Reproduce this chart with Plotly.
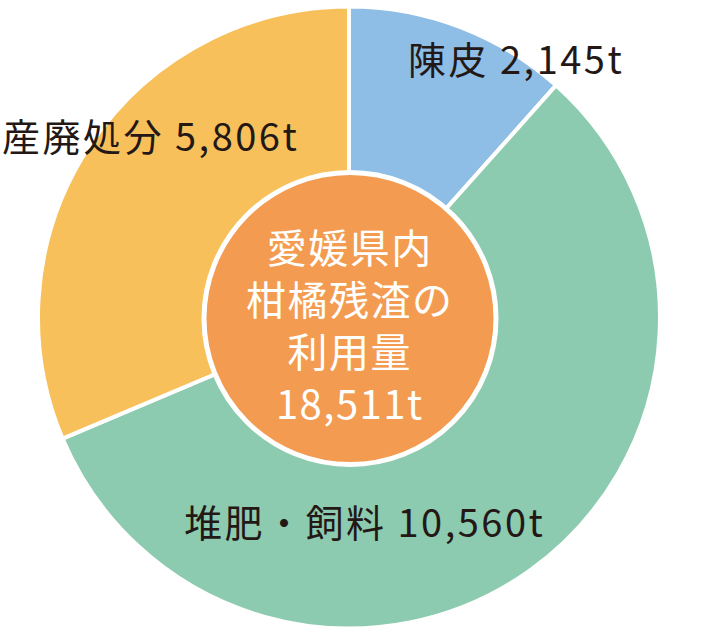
import plotly.graph_objects as go

# data
labels = ["陳皮", "堆肥・飼料", "産廃処分"]
values = [2145, 10560, 5806]
colors = ["#8EBDE6", "#8DCBB0", "#F7C05B"]
center_lines = ["愛媛県内", "柑橘残渣の", "利用量", "18,511t"]

W, H = 707, 635
font_jp = "Noto Sans CJK JP"
ink = "#231815"


def px(x):
    return x / W


def py(y):
    return 1 - y / H


def spaced(s, ls):
    return f'<span style="letter-spacing:{ls}px">{s}</span>'


fig = go.Figure()
fig.add_trace(go.Pie(
    labels=labels,
    values=values,
    sort=False,
    direction="clockwise",
    rotation=0,
    textinfo="none",
    hoverinfo="label+value",
    marker=dict(colors=colors, line=dict(color="white", width=4)),
    domain=dict(x=[px(38), px(660)], y=[py(628.5), py(6.5)]),
    showlegend=False,
))

# center circle
cx, cy, r = 350, 318.5, 146
fig.add_shape(
    type="circle", xref="paper", yref="paper",
    x0=px(cx - r), x1=px(cx + r), y0=py(cy + r), y1=py(cy - r),
    fillcolor="#F39C51", line=dict(color="white", width=5),
)
fig.add_annotation(
    text="<br>".join(spaced(t, 1.5) for t in center_lines),
    xref="paper", yref="paper",
    x=px(350), y=py(324), xanchor="center", yanchor="middle",
    showarrow=False,
    font=dict(family=font_jp, size=40, color="white"),
)

# slice labels
label_pos = [(516, 57), (365, 520), (150, 134)]
for lab, val, (x, y) in zip(labels, values, label_pos):
    fig.add_annotation(
        text=spaced(f"{lab} {val:,}t", 2.5), xref="paper", yref="paper",
        x=px(x), y=py(y), xanchor="center", yanchor="middle",
        showarrow=False,
        font=dict(family=font_jp, size=38, color=ink),
    )

fig.update_layout(
    width=W, height=H,
    margin=dict(l=0, r=0, t=0, b=0),
    paper_bgcolor="white",
    plot_bgcolor="white",
)

# no page margin so the figure sits at the window's corner
fig.write_html("out.html", config={"displayModeBar": False},
               post_script="document.body.style.margin='0';")
